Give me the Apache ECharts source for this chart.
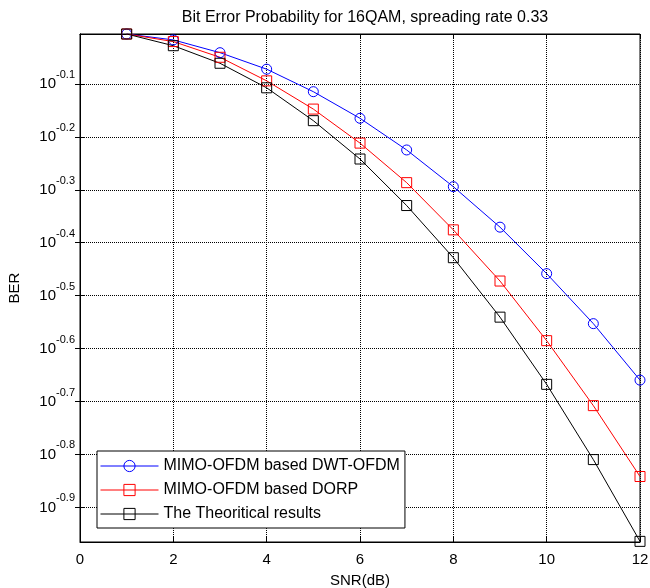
<!DOCTYPE html>
<html>
<head>
<meta charset="utf-8">
<script src="https://cdn.jsdelivr.net/npm/echarts@6/dist/echarts.min.js"></script>
<style>
  html, body { margin: 0; padding: 0; background: #fff; }
  #chart { width: 650px; height: 588px; }
</style>
</head>
<body>
<div id="chart"></div>
<script>
var snr = [1, 2, 3, 4, 5, 6, 7, 8, 9, 10, 11, 12];
var dwtOfdm = [0.987, 0.962, 0.910, 0.847, 0.768, 0.684, 0.596, 0.508, 0.426, 0.348, 0.280, 0.219];
var dorp = [0.987, 0.955, 0.892, 0.805, 0.712, 0.614, 0.517, 0.421, 0.337, 0.260, 0.196, 0.144];
var theory = [0.987, 0.938, 0.869, 0.781, 0.677, 0.573, 0.468, 0.373, 0.288, 0.215, 0.155, 0.1086];
var yTickExps = [-0.9, -0.8, -0.7, -0.6, -0.5, -0.4, -0.3, -0.2, -0.1];

var font = 'Liberation Sans, Arial, sans-serif';
var yTicks = yTickExps.map(function (e) { return Math.pow(10, e); });
var yMin = 0.1083, yMax = 0.987;

function pairs(arr) {
    return snr.map(function (x, i) { return [x, arr[i]]; });
}

// hollow markers, line stays visible through them
function makeSeries(name, data, color, symbol) {
    return {
        name: name,
        type: 'line',
        data: pairs(data),
        symbol: symbol,
        symbolSize: 10,
        showAllSymbol: true,
        lineStyle: { color: color, width: 1 },
        itemStyle: { color: 'rgba(255,255,255,0)', borderColor: color, borderWidth: 1 },
        emphasis: { disabled: true },
        animation: false
    };
}

var myChart = echarts.init(document.getElementById('chart'));
var option = {
    backgroundColor: '#fff',
    animation: false,
    title: {
        text: 'Bit Error Probability for 16QAM, spreading rate 0.33',
        left: 360,
        textAlign: 'center',
        top: 5,
        textStyle: { fontFamily: font, fontSize: 16, fontWeight: 'normal', color: '#000' }
    },
    grid: {
        left: 80, right: 10, top: 34, bottom: 46,
        outerBoundsMode: 'none',
        show: true, borderColor: '#000', borderWidth: 1
    },
    legend: {
        orient: 'vertical',
        left: 97,
        top: 451,
        padding: [7, 5, 6, 3],
        itemGap: 8,
        itemWidth: 58,
        itemHeight: 14,
        borderColor: '#000',
        borderWidth: 1,
        backgroundColor: '#fff',
        lineStyle: { width: 1 },
        itemStyle: { borderWidth: 1 },
        textStyle: { fontFamily: font, fontSize: 16, color: '#000' },
        data: ['MIMO-OFDM based DWT-OFDM', 'MIMO-OFDM based DORP', 'The Theoritical results']
    },
    xAxis: [{
        type: 'value',
        min: 0, max: 12, interval: 2,
        name: 'SNR(dB)',
        nameLocation: 'middle',
        nameGap: 31,
        nameTextStyle: { fontFamily: font, fontSize: 15, color: '#000' },
        axisLine: { lineStyle: { color: '#000', width: 1 } },
        axisTick: { inside: true, length: 5, lineStyle: { color: '#000' } },
        axisLabel: { fontFamily: font, fontSize: 15, color: '#000', margin: 10 },
        splitLine: { show: true, lineStyle: { color: '#000', type: 'dotted', width: 1 } }
    }, {
        type: 'value',
        position: 'top',
        min: 0, max: 12, interval: 2,
        axisLine: { show: true, lineStyle: { color: '#000' } },
        axisTick: { inside: true, length: 5, lineStyle: { color: '#000' } },
        axisLabel: { show: false },
        splitLine: { show: false }
    }],
    yAxis: [{
        type: 'log',
        logBase: 10,
        min: yMin, max: yMax,
        name: 'BER',
        nameLocation: 'middle',
        nameGap: 58,
        nameTextStyle: { fontFamily: font, fontSize: 15, color: '#000' },
        axisLine: { lineStyle: { color: '#000', width: 1 } },
        axisTick: { inside: true, length: 5, customValues: yTicks, lineStyle: { color: '#000' } },
        axisLabel: {
            customValues: yTicks,
            margin: 5,
            formatter: function (v) {
                return '{b|10}{s|' + Math.log10(v).toFixed(1) + '}';
            },
            rich: {
                b: { fontFamily: font, fontSize: 15, color: '#000', padding: [8, 0, 8, 0] },
                s: { fontFamily: font, fontSize: 11, color: '#000', verticalAlign: 'top', padding: [1, 0, 0, 0] }
            }
        },
        splitLine: { show: true, lineStyle: { color: '#000', type: 'dotted', width: 1 } }
    }, {
        type: 'log',
        logBase: 10,
        position: 'right',
        min: yMin, max: yMax,
        axisLine: { show: true, lineStyle: { color: '#000' } },
        axisTick: { inside: true, length: 5, customValues: yTicks, lineStyle: { color: '#000' } },
        axisLabel: { show: false },
        splitLine: { show: false }
    }],
    series: [
        makeSeries('MIMO-OFDM based DWT-OFDM', dwtOfdm, '#0000ff', 'circle'),
        makeSeries('MIMO-OFDM based DORP', dorp, '#ff0000', 'rect'),
        makeSeries('The Theoritical results', theory, '#000000', 'rect')
    ]
};
myChart.setOption(option);
</script>
</body>
</html>
